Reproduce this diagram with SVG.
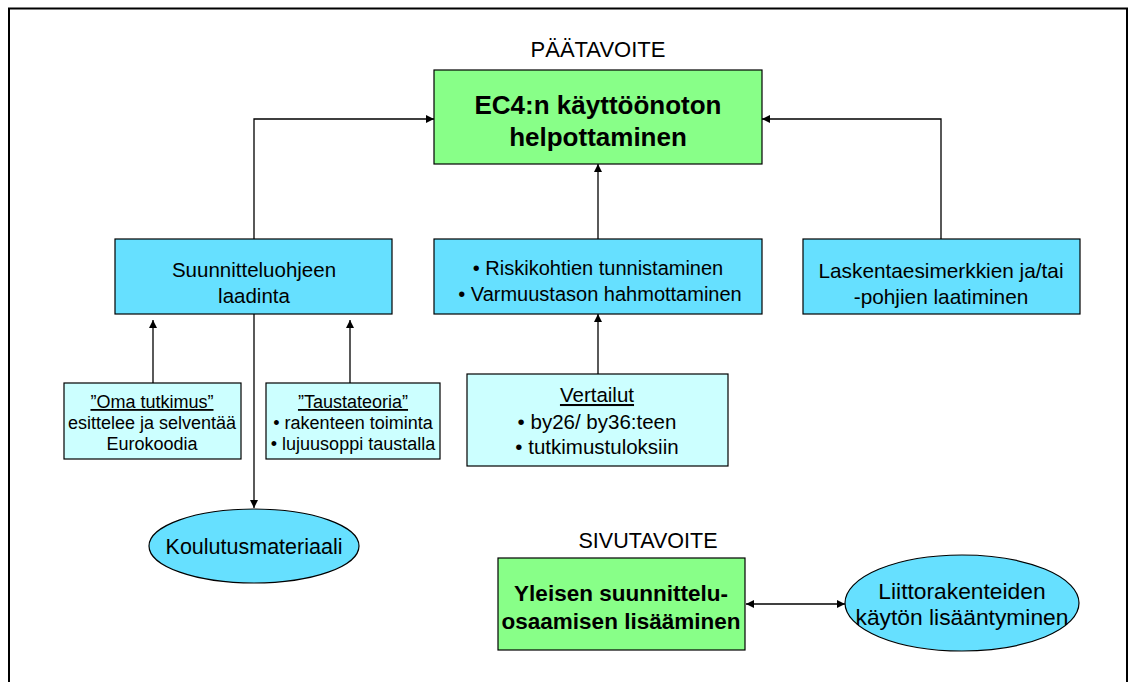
<svg xmlns="http://www.w3.org/2000/svg" width="1132" height="682" viewBox="0 0 1132 682">
<style>
text{font-family:"Liberation Sans",Arial,sans-serif;fill:#000;text-anchor:middle}
.t{font-size:20.5px}
.b{font-size:26px;font-weight:bold}
.s{font-size:18px}
.green{fill:#88ff88;stroke:#000;stroke-width:1.2}
.cyan{fill:#66e0ff;stroke:#000;stroke-width:1.2}
.light{fill:#ccffff;stroke:#000;stroke-width:1.2}
.c{stroke:#000;stroke-width:1.3;fill:none}
</style>
<defs>
<marker id="ah" viewBox="0 0 10 10" refX="10" refY="5" markerWidth="8" markerHeight="8" markerUnits="userSpaceOnUse" orient="auto-start-reverse">
<path d="M0,0 L10,5 L0,10 z" fill="#000"/>
</marker>
</defs>
<rect x="0" y="0" width="1132" height="682" fill="#fff"/>
<path d="M9,690 L9,8.5 L1127,8.5 L1127,690" fill="none" stroke="#000" stroke-width="2"/>
<text x="598" y="57" style="font-size:22px">PÄÄTAVOITE</text>
<text x="648" y="548" style="font-size:21.5px">SIVUTAVOITE</text>
<g id="connectors">
<path class="c" d="M254,239 V119 H434" marker-end="url(#ah)"/>
<path class="c" d="M941,239 V119 H762" marker-end="url(#ah)"/>
<path class="c" d="M598,239 V164" marker-end="url(#ah)"/>
<path class="c" d="M598,374 V314" marker-end="url(#ah)"/>
<path class="c" d="M153,383 V320" marker-end="url(#ah)"/>
<path class="c" d="M350,383 V320" marker-end="url(#ah)"/>
<path class="c" d="M254,314 V508" marker-end="url(#ah)"/>
<path class="c" d="M746,604 H845" marker-start="url(#ah)" marker-end="url(#ah)"/>
</g>
<g id="main">
<rect class="green" x="434" y="70" width="328" height="94"/>
<text class="b" x="598" y="114">EC4:n käyttöönoton</text>
<text class="b" x="598" y="146">helpottaminen</text>
</g>
<g id="suunnittelu">
<rect class="cyan" x="115" y="239" width="277" height="75"/>
<text class="t" x="254" y="277">Suunnitteluohjeen</text>
<text class="t" x="254" y="303">laadinta</text>
</g>
<g id="riski">
<rect class="cyan" x="434" y="239" width="328" height="75"/>
<text class="t" x="598" y="275" style="font-size:20px">• Riskikohtien tunnistaminen</text>
<text class="t" x="600" y="301" style="font-size:20px">• Varmuustason hahmottaminen</text>
</g>
<g id="laskenta">
<rect class="cyan" x="803" y="239" width="277" height="75"/>
<text class="t" x="941" y="278" style="font-size:20.8px">Laskentaesimerkkien ja/tai</text>
<text class="t" x="941" y="304" style="font-size:20.8px">-pohjien laatiminen</text>
</g>
<g id="oma">
<rect class="light" x="64" y="383" width="177" height="76"/>
<text class="s" x="152" y="408" text-decoration="underline">”Oma tutkimus”</text>
<text class="s" x="152" y="429">esittelee ja selventää</text>
<text class="s" x="152" y="450">Eurokoodia</text>
</g>
<g id="tausta">
<rect class="light" x="266" y="383" width="174" height="76"/>
<text class="s" x="353" y="408" text-decoration="underline">”Taustateoria”</text>
<text class="s" x="353" y="429">• rakenteen toiminta</text>
<text class="s" x="353" y="450">• lujuusoppi taustalla</text>
</g>
<g id="vertailut">
<rect class="light" x="467" y="374" width="261" height="92"/>
<text class="t" x="597" y="402" text-decoration="underline">Vertailut</text>
<text class="t" x="597" y="429">• by26/ by36:teen</text>
<text class="t" x="597" y="454">• tutkimustuloksiin</text>
</g>
<g id="koulutus">
<ellipse class="cyan" cx="254" cy="546" rx="105" ry="37"/>
<text class="t" x="254" y="554" style="font-size:21.5px">Koulutusmateriaali</text>
</g>
<g id="yleisen">
<rect class="green" x="498" y="558" width="247" height="92"/>
<text class="b" x="621" y="601" style="font-size:22.5px">Yleisen suunnittelu-</text>
<text class="b" x="621" y="629" style="font-size:22.5px">osaamisen lisääminen</text>
</g>
<g id="liitto">
<ellipse class="cyan" cx="962" cy="603" rx="117" ry="48"/>
<text class="t" x="962" y="599" style="font-size:22.8px">Liittorakenteiden</text>
<text class="t" x="962" y="625" style="font-size:22.8px">käytön lisääntyminen</text>
</g>
</svg>
